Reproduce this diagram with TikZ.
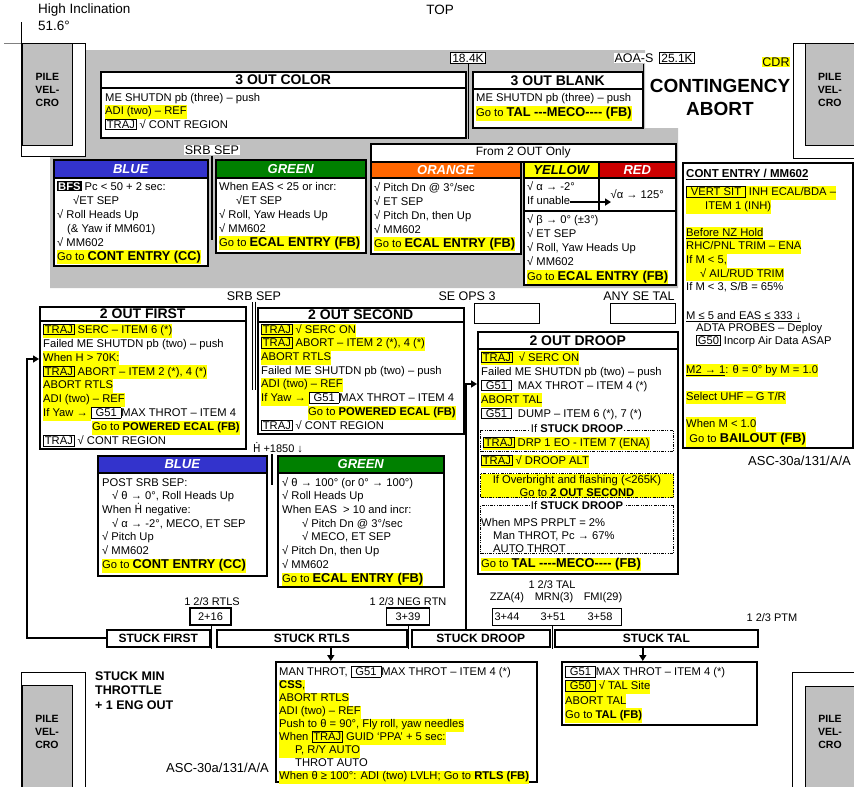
\documentclass[tikz,border=0pt]{standalone}
\usepackage{fontspec}
\setmainfont{Liberation Sans}
\newfontfamily\dvsans{DejaVu Sans}
\usepackage{amsmath}
\usetikzlibrary{arrows.meta}
\definecolor{hlyel}{RGB}{255,255,0}
\definecolor{bggray}{RGB}{192,192,192}
\definecolor{pilegray}{RGB}{192,192,192}
\definecolor{hdrblue}{RGB}{51,51,204}
\definecolor{hdrgreen}{RGB}{0,128,0}
\definecolor{hdrorange}{RGB}{255,102,0}
\definecolor{hdrred}{RGB}{204,0,0}
\lineskiplimit=-50pt
\newcommand{\hl}[1]{{\setlength{\fboxsep}{0pt}\colorbox{hlyel}{\strut#1}}}
\newcommand{\bx}[1]{{\setlength{\fboxsep}{1pt}\setlength{\fboxrule}{0.7pt}\fcolorbox{black}{white}{#1}}}
\newcommand{\hbx}[1]{{\setlength{\fboxsep}{1pt}\setlength{\fboxrule}{0.7pt}\fcolorbox{black}{hlyel}{#1}}}
\newcommand{\gob}[1]{{\fontsize{12.8}{13.7}\selectfont\bfseries #1}}
\newcommand{\Hdot}{{\dvsans\scalebox{0.9}[1]{Ḣ}}}
\begin{document}
\begin{tikzpicture}[x=1pt, y=-1pt,
  panel/.style={draw, fill=white, line width=1.5pt, inner sep=0pt, anchor=north west},
  frame/.style={draw, fill=white, line width=0.8pt, inner sep=0pt, anchor=north west},
  pile/.style={draw, fill=pilegray, line width=0.8pt, inner sep=0pt, anchor=north west},
  piletxt/.style={align=center, inner sep=0pt, font=\fontsize{10.5}{13}\selectfont\bfseries},
  titlebar/.style={panel, font=\fontsize{14}{16}\selectfont\bfseries},
  hdrbar/.style={panel, fill=#1, text=white, font=\fontsize{13}{15}\selectfont\bfseries\itshape},
  body/.style={anchor=north west, align=left, inner sep=0pt, font=\fontsize{11.2}{#1}\selectfont},
  body/.default=13.7,
  lbl/.style={inner sep=1pt, font=\fontsize{12.5}{14}\selectfont},
  small/.style={inner sep=1pt, font=\fontsize{11}{13}\selectfont},
  kbox/.style={draw, fill=white, line width=1.1pt, inner sep=1.5pt, font=\fontsize{12}{13}\selectfont},
  stuck/.style={panel, line width=1.6pt, minimum height=17, font=\fontsize{12}{14}\selectfont\bfseries},
  dashbox/.style={draw, line width=1pt, dash pattern=on 3pt off 1.2pt on 1pt off 1.2pt on 1pt off 1.2pt, inner sep=0pt, anchor=north west},
  conn/.style={line width=2.2pt, -{Triangle[length=6pt,width=7pt]}}]
\useasboundingbox (0,0) rectangle (854,787);
% grey field
\fill[bggray] (85,50) -- (645,50) -- (645,128) -- (678,128) -- (678,288) -- (50,288) -- (50,156) -- (85,156) -- cycle;
% pile velcro corners
\draw[line width=0.8pt] (21,22) -- (21,43);
\draw[line width=0.8pt, gray] (4,43) -- (36,43);
\node[frame, minimum width=64, minimum height=113] (pilea) at (21,43) {};
\node[pile, minimum width=50, minimum height=102] (pileag) at (22,43) {};
\node[piletxt] (pileat) at ([yshift=4pt]pileag.center) {PILE\\VEL-\\CRO};
\node[frame, minimum width=61, minimum height=115] (pileb) at (793,43) {};
\node[pile, minimum width=49, minimum height=102] (pilebg) at (805,43) {};
\node[piletxt] (pilebt) at ([yshift=4pt]pilebg.center) {PILE\\VEL-\\CRO};
\node[frame, minimum width=64, minimum height=118] (pilec) at (21,672) {};
\node[pile, minimum width=50, minimum height=105] (pilecg) at (22,685) {};
\node[piletxt] (pilect) at (47,732) {PILE\\VEL-\\CRO};
\node[frame, minimum width=62, minimum height=118] (piled) at (792,672) {};
\node[pile, minimum width=49, minimum height=104] (piledg) at (805,686) {};
\node[piletxt] (piledt) at (830,732) {PILE\\VEL-\\CRO};
% top labels
\node[lbl, anchor=west, font=\fontsize{13.5}{15}\selectfont] (incl) at (37,10) {High Inclination};
\node[lbl, anchor=west, font=\fontsize{13.5}{15}\selectfont] (incldeg) at (37,26) {51.6°};
\node[lbl, font=\fontsize{13.5}{15}\selectfont] (toplbl) at (440,10) {TOP};
% 3 out
\node[panel, minimum width=365, minimum height=66] (color3) at (100,71) {};
\node[titlebar, minimum width=365, minimum height=16] (color3t) at (100,71) {3 OUT COLOR};
\node[body=13.5] (color3b) at (105,91.4) {\strut ME SHUTDN pb (three) – push\\ \hl{ADI (two) – REF}\\ \bx{TRAJ} √ CONT REGION};
\node[kbox] (k184) at (468,58) {18.4K};
\draw[line width=1pt] (k184.south) -- (k184.south |- color3.south);
\node[panel, minimum width=170, minimum height=56] (blank3) at (472,71) {};
\node[titlebar, minimum width=170, minimum height=17] (blank3t) at (472,71) {3 OUT BLANK};
\node[body=14.8] (blank3b) at (476,91.4) {\strut ME SHUTDN pb (three) – push\\ \hl{Go to \gob{TAL -{}-{}-MECO-{}-{}-{}- (FB)}}};
\node[lbl, fill=white] (aoa) at (634,58) {AOA-S};
\node[kbox] (k251) at (677,58) {25.1K};
\draw[line width=1pt] ([xshift=9pt]aoa.south) -- ([xshift=9pt]aoa.south |- blank3.east);
\node[lbl, fill=hlyel, inner sep=0.5pt] (cdr) at (776,62) {CDR};
\node[align=center, font=\fontsize{19}{23}\selectfont\bfseries] (contab) at (720,97) {CONTINGENCY\\ABORT};
% srb sep, first stage
\node[lbl, fill=white] (srbsepa) at (212,150) {SRB SEP};
\draw[line width=2pt] (srbsepa.south) -- ++(0,84);
\node[panel, minimum width=154, minimum height=106] (bluea) at (53,159) {};
\node[hdrbar=hdrblue, minimum width=154, minimum height=18] (blueah) at (53,159) {BLUE};
\node[body=14] (blueab) at (57,180.2) {\strut{\setlength{\fboxsep}{1pt}\colorbox{black}{\color{white}\bfseries BFS}} Pc < 50 + 2 sec:\\ \hspace*{16pt}√ET SEP\\ √ Roll Heads Up\\ \hspace*{10pt}(\& Yaw if MM601)\\ √ MM602\\ \hl{Go to \gob{CONT ENTRY (CC)}}};
\node[panel, minimum width=150, minimum height=93] (greena) at (215,159) {};
\node[hdrbar=hdrgreen, minimum width=150, minimum height=18] (greenah) at (215,159) {GREEN};
\node[body=14] (greenab) at (219,180.2) {\strut When EAS < 25 or incr:\\ \hspace*{17pt}√ET SEP\\ √ Roll, Yaw Heads Up\\ √ MM602\\ \hl{Go to \gob{ECAL ENTRY (FB)}}};
\node[panel, minimum width=305, minimum height=18, font=\fontsize{12}{14}\selectfont] (from2) at (370,143) {From 2 OUT Only};
\node[panel, minimum width=150, minimum height=92] (orange) at (370,161) {};
\node[hdrbar=hdrorange, minimum width=150, minimum height=16] (orangeh) at (370,161) {ORANGE};
\node[body=14] (orangeb) at (374,181.2) {\strut √ Pitch Dn @ 3°/sec\\ √ ET SEP\\ √ Pitch Dn, then Up\\ √ MM602\\ \hl{Go to \gob{ECAL ENTRY (FB)}}};
\node[hdrbar=hlyel, text=black, minimum width=75, minimum height=16] (yellowh) at (523,161) {YELLOW};
\node[hdrbar=hdrred, minimum width=77, minimum height=16] (redh) at (598,161) {RED};
\node[panel, minimum width=75, minimum height=33] (ycell) at (523,177) {};
\node[panel, minimum width=77, minimum height=33, font=\fontsize{11.2}{13}\selectfont] (rcell) at (598,177) {√α → 125°};
\node[body] (yalpha) at (527,180.4) {\strut √ α → -2°};
\node[body] (unable) at (527,195) {\strut If unable};
\draw[conn] (unable.east) -- ([xshift=13pt]rcell.west |- unable.east);
\node[panel, minimum width=152, minimum height=74] (ylow) at (523,210) {};
\node[body=14.2] (ylowb) at (527,213.2) {\strut √ β → 0° (±3°)\\ √ ET SEP\\ √ Roll, Yaw Heads Up\\ √ MM602\\ \hl{Go to \gob{ECAL ENTRY (FB)}}};
% cont entry
\node[panel, minimum width=170, minimum height=285] (contentry) at (682,162) {};
\node[body=14] (ceA) at (686,167.4) {\strut{\fontsize{11.5}{14}\selectfont\bfseries\underline{CONT ENTRY / MM602}}\\[4pt] \hl{\hbx{\hspace{3pt}VERT SIT\hspace{3pt}} INH ECAL/BDA –}\\ \hl{\hspace*{19pt}ITEM 1 (INH)}};
\node[body] (ceB) at (686,226.4) {\hl{\underline{Before NZ Hold}}\\ \hl{RHC/PNL TRIM – ENA}\\ \hl{If M < 5,}\\ \hl{\hspace*{14pt}√ AIL/RUD TRIM}\\ If M < 3, S/B = 65\%};
\node[body=12.5] (ceC) at (686,310.2) {\strut\underline{M ≤ 5 and EAS ≤ 333 ↓}\\ \hspace*{10pt}ADTA PROBES – Deploy\\ \hspace*{10pt}\bx{G50} Incorp Air Data ASAP};
\node[body] (ceD) at (686,363.4) {\hl{\underline{M2 → 1}: θ = 0° by M = 1.0}};
\node[body] (ceE) at (686,390.4) {\hl{Select UHF – G T/R}};
\node[body=15] (ceF) at (686,416.4) {\hl{When M < 1.0}\\ \hl{\ Go to \gob{BAILOUT (FB)}}};
\node[lbl, anchor=east, font=\fontsize{13}{15}\selectfont] (ascr) at (852,461) {ASC-30a/131/A/A};
% 2 out
\node[lbl] (srbsepb) at (254,296) {SRB SEP};
\node[lbl] (seops) at (467,296) {SE OPS 3};
\node[lbl] (anyse) at (639,296) {ANY SE TAL};
\node[panel, line width=1.1pt, minimum width=65, minimum height=20] (seopsbox) at (474,303) {};
\node[panel, line width=1.1pt, minimum width=65, minimum height=20] (anysebox) at (610,303) {};
\draw[double, line width=0.8pt, double distance=1.5pt] (srbsepb.south) -- ++(0,88);
\draw[double, line width=0.7pt, double distance=1.2pt] ([xshift=2pt]seops.south) -- ++(0,45);
\node[panel, minimum width=206, minimum height=142] (first2) at (39,306) {};
\node[titlebar, minimum width=206, minimum height=14] (first2t) at (39,306) {2 OUT FIRST};
\node[body=13.9] (first2b) at (43,323.4) {\hl{\hbx{TRAJ} SERC – ITEM 6 (*)}\\ Failed ME SHUTDN pb (two) – push\\ \hl{When H > 70K:}\\ \hl{\hbx{TRAJ} ABORT – ITEM 2 (*), 4 (*)}\\ \hl{ABORT RTLS}\\ \hl{ADI (two) – REF}\\ \hl{If Yaw → }\bx{\hspace{3pt}G51\hspace{3pt}}MAX THROT – ITEM 4\\ \hspace*{49pt}\hl{Go to \textbf{POWERED ECAL (FB)}}\\ \bx{TRAJ} √ CONT REGION};
\node[panel, minimum width=206, minimum height=126] (second2) at (257,307) {};
\node[titlebar, minimum width=206, minimum height=14] (second2t) at (257,307) {2 OUT SECOND};
\node[body] (second2b) at (261,323.4) {\hl{\hbx{TRAJ} √ SERC ON}\\ \hl{\hbx{TRAJ} ABORT – ITEM 2 (*), 4 (*)}\\ \hl{ABORT RTLS}\\ Failed ME SHUTDN pb (two) – push\\ \hl{ADI (two) – REF}\\ \hl{If Yaw → }\bx{\hspace{3pt}G51\hspace{3pt}}MAX THROT – ITEM 4\\ \hspace*{47pt}\hl{Go to \textbf{POWERED ECAL (FB)}}\\ \bx{TRAJ} √ CONT REGION};
\node[small] (hdot) at (278,448) {\Hdot{} +1850 ↓};
\node[panel, minimum width=169, minimum height=120] (blueb) at (97,455) {};
\node[hdrbar=hdrblue, minimum width=169, minimum height=17] (bluebh) at (97,455) {BLUE};
\node[body] (bluebb) at (102,476.4) {\strut POST SRB SEP:\\ \hspace*{10pt}√ θ → 0°, Roll Heads Up\\ When \Hdot{} negative:\\ \hspace*{10pt}√ α → -2°, MECO, ET SEP\\ √ Pitch Up\\ √ MM602\\ \hl{Go to \gob{CONT ENTRY (CC)}}};
\node[panel, minimum width=166, minimum height=131] (greenb) at (277,455) {};
\node[hdrbar=hdrgreen, minimum width=166, minimum height=17] (greenbh) at (277,455) {GREEN};
\node[body] (greenbb) at (282,476.4) {\strut √ θ → 100° (or 0° → 100°)\\ √ Roll Heads Up\\ When EAS \ > 10 and incr:\\ \hspace*{20pt}√ Pitch Dn @ 3°/sec\\ \hspace*{20pt}√ MECO, ET SEP\\ √ Pitch Dn, then Up\\ √ MM602\\ \hl{Go to \gob{ECAL ENTRY (FB)}}};
\draw[line width=2pt] ([xshift=-6pt]hdot.south) -- ++(0,31);
% droop
\node[panel, minimum width=200, minimum height=242] (droop2) at (477,331) {};
\node[titlebar, minimum width=200, minimum height=17] (droop2t) at (477,331) {2 OUT DROOP};
\node[body=14] (droop2b) at (481,351.2) {\hl{\hbx{TRAJ}\ \ √ SERC ON}\\ Failed ME SHUTDN pb (two) – push\\ \bx{\hspace{3pt}G51\hspace{3pt}}\ \ MAX THROT – ITEM 4 (*)\\ \hl{ABORT TAL}\\ \bx{\hspace{3pt}G51\hspace{3pt}}\ \ DUMP – ITEM 6 (*), 7 (*)};
\node[dashbox, minimum width=193, minimum height=21] (stucka) at (480,430) {};
\node[small, fill=white, font=\fontsize{11.2}{13}\selectfont] (stuckal) at (577,428) {If \textbf{STUCK DROOP}};
\node[body] (stuckat) at (483,436.4) {\hl{\hbx{TRAJ} DRP 1 EO - ITEM 7 (ENA)}};
\node[body] (droopalt) at (481,454.4) {\hl{\hbx{TRAJ} √ DROOP ALT}};
\node[dashbox, fill=hlyel, minimum width=193, minimum height=24, align=center, font=\fontsize{11.2}{13}\selectfont] (overb) at (480,473) {If Overbright and flashing (<265K)\\Go to \textbf{2 OUT SECOND}};
\node[dashbox, minimum width=193, minimum height=48] (stuckb) at (480,505) {};
\node[small, fill=white, font=\fontsize{11.2}{13}\selectfont] (stuckbl) at (577,505) {If \textbf{STUCK DROOP}};
\node[body=13] (stuckbt) at (481,516.9) {\strut When MPS PRPLT = 2\%\\ \hspace*{12pt}Man THROT, Pc → 67\%\\ \hspace*{12pt}AUTO THROT};
\node[body] (droopgo) at (481,557.4) {\hl{Go to \gob{TAL -{}-{}-{}-MECO-{}-{}-{}- (FB)}}};
% abort gates
\node[small] (tal123) at (552,585) {1 2/3 TAL};
\node[small] (zza) at (507,598) {ZZA(4)};
\node[small] (mrn) at (554,598) {MRN(3)};
\node[small] (fmi) at (603,598) {FMI(29)};
\node[panel, line width=1.3pt, minimum width=129, minimum height=17] (talnum) at (492,608) {};
\node[small] (v344) at (507,616.5) {3+44};
\node[small] (v351) at (553,616.5) {3+51};
\node[small] (v358) at (600,616.5) {3+58};
\node[small] (ptm) at (772,618) {1 2/3 PTM};
\node[small] (rtls123) at (212,602) {1 2/3 RTLS};
\node[kbox, font=\fontsize{11}{13}\selectfont, minimum width=41, minimum height=17] (n216) at (210.5,616.5) {2+16};
\node[small] (neg123) at (408,602) {1 2/3 NEG RTN};
\node[kbox, font=\fontsize{11}{13}\selectfont, minimum width=43, minimum height=17] (n339) at (408,616.5) {3+39};
\draw[line width=0.8pt] ([xshift=1pt]n216.south) -- ++(0,23);
\draw[line width=0.8pt] (n339.south) -- ++(0,23);
\draw[line width=0.8pt] ([xshift=-4.5pt]talnum.south) -- ++(0,23);
% stuck row
\node[stuck, minimum width=103] (stfirst) at (106,629) {STUCK FIRST};
\node[stuck, minimum width=190] (strtls) at (216,629) {STUCK RTLS};
\node[stuck, minimum width=138] (stdroop) at (411,629) {STUCK DROOP};
\node[stuck, minimum width=203] (sttal) at (554,629) {STUCK TAL};
\node[panel, minimum width=261, minimum height=120] (rtlsbox) at (275,661) {};
\node[body=13] (rtlsb) at (279,665.9) {\strut MAN THROT, \bx{\hspace{3pt}G51\hspace{3pt}}MAX THROT – ITEM 4 (*)\\ \hl{\textbf{CSS},}\\ \hl{ABORT RTLS}\\ \hl{ADI (two) – REF}\\ \hl{Push to θ = 90°, Fly roll, yaw needles}\\ \hl{When \hbx{TRAJ} GUID ‘PPA’ + 5 sec:}\\ \hl{\hspace*{16pt}P, R/Y AUTO}\\ \hspace*{16pt}THROT AUTO\\ \hl{When θ ≥ 100°: ADI (two) LVLH; Go to \textbf{RTLS (FB)}}};
\node[panel, minimum width=195, minimum height=63] (talbox) at (561,661) {};
\node[body=14.3] (talb) at (565,665.3) {\strut\bx{\hspace{3pt}G51\hspace{3pt}}MAX THROT – ITEM 4 (*)\\ \hl{\hbx{\hspace{3pt}G50\hspace{3pt}} √ TAL Site}\\ \hl{ABORT TAL}\\ \hl{Go to \textbf{TAL (FB)}}};
% connectors
\coordinate (fturn) at (27,359);
\draw[conn] (stfirst.west) -| (fturn) -- (fturn -| first2.west);
\coordinate (dturn) at (466,384);
\draw[conn] (stdroop.north -| dturn) -- (dturn) -- (dturn -| droop2.west);
\draw[conn] ([xshift=19pt]strtls.south) -- ([xshift=19pt]strtls.south |- rtlsbox.north);
\draw[conn] ([xshift=-13.5pt]sttal.south) -- ([xshift=-13.5pt]sttal.south |- talbox.north);
\node[anchor=north west, align=left, inner sep=0pt, font=\fontsize{12.5}{14.5}\selectfont\bfseries] (stuckmin) at (95,671.5) {STUCK MIN\\THROTTLE\\+ 1 ENG OUT};
\node[lbl, anchor=east, font=\fontsize{13}{15}\selectfont] (ascl) at (270,768) {ASC-30a/131/A/A};
\end{tikzpicture}
\end{document}
